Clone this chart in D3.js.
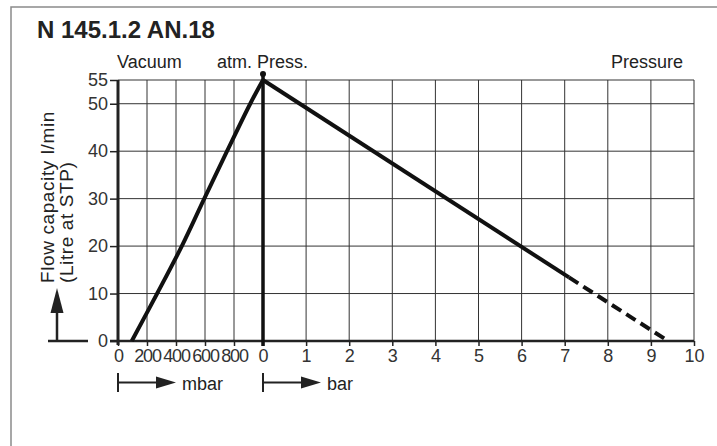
<!DOCTYPE html>
<html>
<head>
<meta charset="utf-8">
<script src="https://cdn.jsdelivr.net/npm/d3@7"></script>
<style>
  body { margin: 0; background: #fff; }
  svg { display: block; }
  svg text { font-family: "Liberation Sans", Arial, sans-serif; }
  .tick text { font-size: 18px; fill: #333; }
</style>
</head>
<body>
<svg id="chart" width="717" height="446"></svg>
<script>
// values
var yTicks = [0, 10, 20, 30, 40, 50, 55];
var mbarTicks = [0, 200, 400, 600, 800];
var barTicks = [0, 1, 2, 3, 4, 5, 6, 7, 8, 9, 10];

// vacuum side: flow vs. absolute pressure in mbar
var vacMbar = [95, 270, 440, 595, 752, 912, 1000];
var vacFlow = [0, 10, 20, 30, 40, 50, 55];

// pressure side: flow vs. gauge pressure in bar
var pressBar = [0, 7.1];
var pressFlow = [55, 13.4];
var dashBar = [7.1, 9.4];
var dashFlow = [13.4, 0];

var svg = d3.select("#chart");

// outer frame (left + top only)
svg.append("path")
  .attr("d", "M11,446 L11,7 L717,7")
  .attr("fill", "none")
  .attr("stroke", "#8a8a8a")
  .attr("stroke-width", 1.5);

svg.append("text")
  .attr("x", 37).attr("y", 38)
  .style("font-size", "24px").style("font-weight", "bold")
  .attr("fill", "#222")
  .text("N 145.1.2 AN.18");

// scales: mbar part on the left, bar part on the right
var xMbar = d3.scaleLinear().domain([0, 1000]).range([118, 263]);
var xBar = d3.scaleLinear().domain([0, 10]).range([263, 694]);
var yScale = d3.scaleLinear().domain([0, 55]).range([341, 80]);

var grid = svg.append("g").attr("stroke", "#333").attr("stroke-width", 1);

grid.selectAll(".hg")
  .data(yTicks.slice(1))
  .enter().append("line")
  .attr("x1", xMbar(0)).attr("x2", xBar(10))
  .attr("y1", function (d) { return yScale(d); })
  .attr("y2", function (d) { return yScale(d); });

grid.selectAll(".vm")
  .data(mbarTicks.slice(1))
  .enter().append("line")
  .attr("x1", function (d) { return xMbar(d); })
  .attr("x2", function (d) { return xMbar(d); })
  .attr("y1", yScale(0)).attr("y2", yScale(55));

grid.selectAll(".vb")
  .data(barTicks.slice(1))
  .enter().append("line")
  .attr("x1", function (d) { return xBar(d); })
  .attr("x2", function (d) { return xBar(d); })
  .attr("y1", yScale(0)).attr("y2", yScale(55));

// axes
var laxis = d3.axisLeft(yScale).tickValues(yTicks).tickSize(8).tickPadding(2);
var gl = svg.append("g").attr("transform", "translate(" + xMbar(0) + ",0)").call(laxis);

var maxis = d3.axisBottom(xMbar).tickValues(mbarTicks).tickSize(5).tickPadding(3);
var gm = svg.append("g").attr("transform", "translate(0," + yScale(0) + ")").call(maxis);

var baxis = d3.axisBottom(xBar).tickValues(barTicks).tickSize(5).tickPadding(3);
var gb = svg.append("g").attr("transform", "translate(0," + yScale(0) + ")").call(baxis);

[gl, gm, gb].forEach(function (g) {
  g.select(".domain").remove();
  g.selectAll(".tick line").attr("stroke", "#222").attr("stroke-width", 1.5);
});
// the mbar numbers are squeezed together on the sheet
gm.selectAll(".tick text").style("letter-spacing", "-1.2px");

// heavy axis lines
svg.append("line")
  .attr("x1", xMbar(0) - 8).attr("x2", xBar(10))
  .attr("y1", yScale(0)).attr("y2", yScale(0))
  .attr("stroke", "#222").attr("stroke-width", 2.5);

svg.append("line")
  .attr("x1", xMbar(0)).attr("x2", xMbar(0))
  .attr("y1", yScale(0) + 4).attr("y2", yScale(55))
  .attr("stroke", "#222").attr("stroke-width", 3);

svg.append("line")
  .attr("x1", xBar(0)).attr("x2", xBar(0))
  .attr("y1", yScale(0) + 5).attr("y2", yScale(55) - 6)
  .attr("stroke", "#111").attr("stroke-width", 3.5);

svg.append("circle")
  .attr("cx", xBar(0)).attr("cy", yScale(55) - 6).attr("r", 3)
  .attr("fill", "#111");

// curves
var vacLine = d3.line()
  .x(function (d, i) { return xMbar(vacMbar[i]); })
  .y(function (d) { return yScale(d); })
  .curve(d3.curveCatmullRom);

svg.append("path")
  .attr("d", vacLine(vacFlow))
  .attr("fill", "none").attr("stroke", "#111").attr("stroke-width", 4);

var pLine = d3.line()
  .x(function (d) { return xBar(d[0]); })
  .y(function (d) { return yScale(d[1]); });

svg.append("path")
  .attr("d", pLine(d3.zip(pressBar, pressFlow)))
  .attr("fill", "none").attr("stroke", "#111").attr("stroke-width", 4);

svg.append("path")
  .attr("d", pLine(d3.zip(dashBar, dashFlow)))
  .attr("fill", "none").attr("stroke", "#111").attr("stroke-width", 4)
  .attr("stroke-dasharray", "11,6");

// headers above the grid
var hdr = svg.append("g").style("font-size", "18px").attr("fill", "#222");
hdr.append("text").attr("x", 117).attr("y", 68).text("Vacuum");
hdr.append("text").attr("x", 217).attr("y", 68).text("atm. Press.");
hdr.append("text").attr("x", 683).attr("y", 68).attr("text-anchor", "end").text("Pressure");

// y axis title
var yl = svg.append("g").style("font-size", "19px").attr("fill", "#222");
yl.append("text")
  .attr("transform", "translate(54,283) rotate(-90)")
  .style("letter-spacing", "0.6px")
  .text("Flow capacity l/min");
yl.append("text")
  .attr("transform", "translate(73,283) rotate(-90)")
  .style("letter-spacing", "0.6px")
  .text("(Litre at STP)");

// up arrow beside the y title
svg.append("path")
  .attr("d", "M48,341 L88,341 M57,341 L57,310")
  .attr("fill", "none").attr("stroke", "#222").attr("stroke-width", 2.5);
svg.append("path")
  .attr("d", "M57,288 L63.5,313 L50.5,313 Z")
  .attr("fill", "#222");

// unit arrows under the x axis
function unitArrow(x0, label) {
  var g = svg.append("g");
  g.append("line").attr("x1", x0).attr("x2", x0).attr("y1", 373).attr("y2", 392)
    .attr("stroke", "#222").attr("stroke-width", 2);
  g.append("line").attr("x1", x0).attr("x2", x0 + 40).attr("y1", 382.5).attr("y2", 382.5)
    .attr("stroke", "#222").attr("stroke-width", 2);
  g.append("path")
    .attr("d", "M" + (x0 + 58) + ",382.5 L" + (x0 + 38) + ",376.5 L" + (x0 + 38) + ",388.5 Z")
    .attr("fill", "#222");
  g.append("text").attr("x", x0 + 64).attr("y", 390)
    .style("font-size", "18px").attr("fill", "#222").text(label);
}
unitArrow(xMbar(0), "mbar");
unitArrow(xBar(0), "bar");
</script>
</body>
</html>
